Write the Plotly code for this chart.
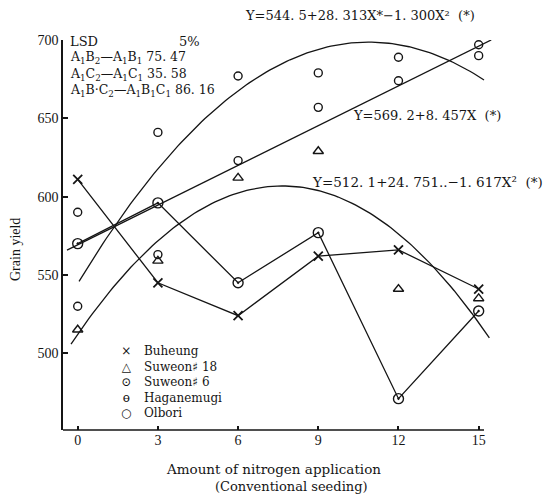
import numpy as np
import plotly.graph_objects as go

# ---------------- data ----------------
nitrogen = [0, 3, 6, 9, 12, 15]
buheung = [611, 545, 524, 562, 566, 541]
suweon18 = [515, 559, 612, 629, 541, 535]
suweon6 = [570, 596, 545, 577, 471, 527]
haganemugi = [530, 563, 623, 657, 674, 690]
olbori = [590, 641, 677, 679, 689, 697]

# regression equations printed on the chart: coefficients (c0, c1, c2) and drawn X extent
reg_top = [544.5, 28.313, -1.300]
reg_top_span = [0.05, 15.2]
reg_mid = [569.2, 8.457, 0.0]
reg_mid_span = [-0.4, 15.47]
reg_low = [512.1, 24.751, -1.617]
reg_low_span = [-0.25, 15.4]

x_ticks = [0, 3, 6, 9, 12, 15]
y_ticks = [500, 550, 600, 650, 700]

eq_top = "Y=544. 5+28. 313X*−1. 300X²  (*)"
eq_mid = "Y=569. 2+8. 457X  (*)"
eq_low = "Y=512. 1+24. 751..−1. 617X²  (*)"

lsd_rows = [
    ("A<sub>1</sub>B<sub>2</sub>—A<sub>1</sub>B<sub>1</sub>", "75. 47"),
    ("A<sub>1</sub>C<sub>2</sub>—A<sub>1</sub>C<sub>1</sub>", "35. 58"),
    ("A<sub>1</sub>B·C<sub>2</sub>—A<sub>1</sub>B<sub>1</sub>C<sub>1</sub>", "86. 16"),
]

legend_glyphs = ["×", "△", "⊙", "ɵ", "○"]
legend_labels = ["Buheung", "Suweon♯ 18", "Suweon♯ 6", "Haganemugi", "Olbori"]

# ---------------- layout geometry ----------------
W_PX, H_PX = 543, 499
L, T, PW, PH = 63, 40, 442, 390
SERIF = "Liberation Serif, Times New Roman, serif"
WIDE = "DejaVu Serif, serif"
INK = "#151515"


def ax(xpx):
    return (xpx - L) / PW


def ay(ypx):
    return (T + PH - ypx) / PH


fig = go.Figure()


def reg_curve(coef, span):
    xs = np.linspace(span[0], span[1], 120)
    ys = coef[0] + coef[1] * xs + coef[2] * xs ** 2
    fig.add_trace(go.Scatter(x=xs, y=ys, mode="lines",
                             line=dict(color=INK, width=1.3),
                             showlegend=False, hoverinfo="skip"))


reg_curve(reg_top, reg_top_span)
reg_curve(reg_mid, reg_mid_span)
reg_curve(reg_low, reg_low_span)

fig.add_trace(go.Scatter(x=nitrogen, y=buheung, mode="lines+markers", name="Buheung",
                         line=dict(color=INK, width=1.3),
                         marker=dict(symbol="x-thin-open", size=9, color=INK,
                                     line=dict(width=1.8, color=INK)),
                         cliponaxis=False, showlegend=False))
fig.add_trace(go.Scatter(x=nitrogen, y=suweon6, mode="lines+markers", name="Suweon♯ 6",
                         line=dict(color=INK, width=1.3),
                         marker=dict(symbol="circle-open-dot", size=10, color=INK,
                                     line=dict(width=1.4, color=INK)),
                         cliponaxis=False, showlegend=False))
fig.add_trace(go.Scatter(x=nitrogen, y=suweon18, mode="markers", name="Suweon♯ 18",
                         marker=dict(symbol="triangle-up-open", size=9, color=INK,
                                     line=dict(width=1.4, color=INK)),
                         cliponaxis=False, showlegend=False))
fig.add_trace(go.Scatter(x=nitrogen, y=haganemugi, mode="markers", name="Haganemugi",
                         marker=dict(symbol="circle-open", size=8, color=INK,
                                     line=dict(width=1.4, color=INK)),
                         cliponaxis=False, showlegend=False))
fig.add_trace(go.Scatter(x=nitrogen, y=olbori, mode="markers", name="Olbori",
                         marker=dict(symbol="circle-open", size=8, color=INK,
                                     line=dict(width=1.4, color=INK)),
                         cliponaxis=False, showlegend=False))

ann = []


def text(xpx, ypx, s, size=13, xanchor="left", yanchor="middle", angle=0,
         family=WIDE, align="left"):
    ann.append(dict(x=ax(xpx), y=ay(ypx), xref="paper", yref="paper", text=s,
                    showarrow=False, xanchor=xanchor, yanchor=yanchor, align=align,
                    textangle=angle, font=dict(family=family, size=size, color=INK)))


# equations
text(243, 15, eq_top, 13)
text(351, 115, eq_mid, 13)
text(310, 182, eq_low, 13.5)

# LSD block
text(68, 42, "LSD", 13)
text(177, 42, "5%", 13)
lsd_y = [58, 74, 90]
for (lab, val), yy in zip(lsd_rows, lsd_y):
    text(68, yy, lab + " " + val, 12.5)

# legend (text-based, two aligned multi-line columns)
leg_center = 382
text(126, leg_center, "<br>".join(legend_glyphs), 12, xanchor="center", align="center")
text(142, leg_center, "<br>".join(legend_labels), 12)

# axis titles
text(273, 469, "Amount of nitrogen application", 13.5, xanchor="center")
text(291, 487, "(Conventional seeding)", 13, xanchor="center")
text(15, 250, "Grain yield", 14, xanchor="center", angle=-90, family=SERIF)

fig.update_layout(
    width=W_PX, height=H_PX,
    margin=dict(l=L, r=W_PX - L - PW, t=T, b=H_PX - T - PH, pad=0),
    paper_bgcolor="white", plot_bgcolor="white",
    showlegend=False,
    annotations=ann,
    font=dict(family=SERIF, size=13, color=INK),
    xaxis=dict(range=[-0.55, 15.985], tickvals=x_ticks, ticks="inside", ticklen=4,
               tickwidth=1.5, tickcolor=INK, showgrid=False, zeroline=False,
               showline=False, tickfont=dict(family=SERIF, size=14, color=INK)),
    yaxis=dict(range=[451, 700], tickvals=y_ticks, ticks="inside", ticklen=5,
               tickwidth=1.5, tickcolor=INK, showgrid=False, zeroline=False,
               showline=True, linecolor=INK, linewidth=1.6,
               tickfont=dict(family=SERIF, size=14, color=INK)),
    shapes=[dict(type="line", xref="x", yref="paper", x0=-0.55, x1=15.2, y0=0, y1=0,
                 line=dict(color=INK, width=1.6))],
)

fig.write_html("out.html")
